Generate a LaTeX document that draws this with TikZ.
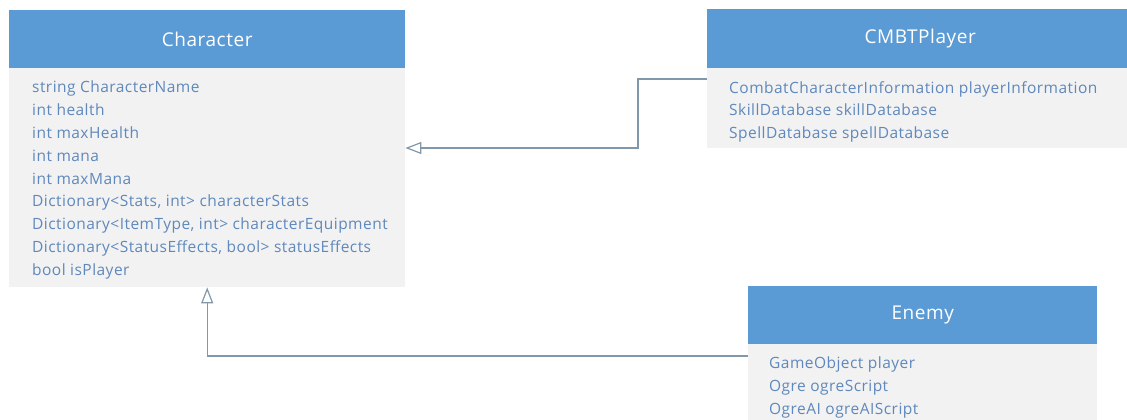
\documentclass[tikz,border=0pt]{standalone}
\usepackage{fontspec}
\setmainfont{Open Sans}[LetterSpace=3]
\usetikzlibrary{arrows.meta}
\definecolor{hdrblue}{HTML}{5B9BD5}
\definecolor{bodygrey}{HTML}{F2F2F2}
\definecolor{fieldblue}{HTML}{5F88BC}
\definecolor{linegrey}{HTML}{8198AA}
\begin{document}
\begin{tikzpicture}[x=1pt,y=-1pt,
  header/.style={fill=hdrblue,draw=none,anchor=north west,inner sep=0pt,
    text=white,font=\fontsize{19}{21}\selectfont},
  classbody/.style={fill=bodygrey,draw=none,anchor=north west,inner sep=0pt},
  fields/.style={anchor=north west,inner sep=0pt,align=left,text=fieldblue,
    font=\fontsize{15.5}{22.8}\selectfont},
  inh/.style={draw=linegrey,line width=1.2pt,
    -{Triangle[open,length=16pt,width=12pt,fill=white]}}]
\useasboundingbox (0,0) rectangle (1127,420);

% Character
\node[header,minimum width=396pt,minimum height=58pt] (chhead) at (9,10) {Character};
\node[classbody,minimum width=396pt,minimum height=219pt] (chbody) at (9,68) {};
\node[fields] (chfields) at (32,81) {string CharacterName\\int health\\int maxHealth\\int mana\\int maxMana\\Dictionary<Stats, int> characterStats\\Dictionary<ItemType, int> characterEquipment\\Dictionary<StatusEffects, bool> statusEffects\\bool isPlayer};

% CMBTPlayer
\node[header,minimum width=426pt,minimum height=59pt] (cmhead) at (707,9) {CMBTPlayer};
\node[classbody,minimum width=426pt,minimum height=80pt] (cmbody) at (707,68) {};
\node[fields] (cmfields) at (729,81) {CombatCharacterInformation playerInformation\\SkillDatabase skillDatabase\\SpellDatabase spellDatabase};

% Enemy
\node[header,minimum width=349pt,minimum height=58pt] (enhead) at (748,286) {Enemy};
\node[classbody,minimum width=349pt,minimum height=80pt] (enbody) at (748,344) {};
\node[fields] (enfields) at (769,357) {GameObject player\\Ogre ogreScript\\OgreAI ogreAIScript};

% connectors
\draw[inh] ([yshift=-11pt]cmbody.north west) -- ++(-69,0) |- ([yshift=-80pt]chbody.north east);
\draw[inh] ([yshift=-12pt]enbody.north west) -| (chbody.south);
\end{tikzpicture}
\end{document}
